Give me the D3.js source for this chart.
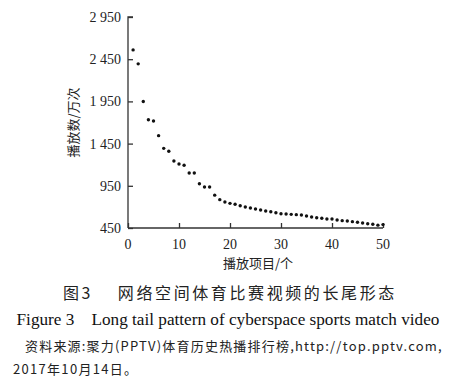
<!DOCTYPE html>
<html>
<head>
<meta charset="utf-8">
<script src="https://cdn.jsdelivr.net/npm/d3@7"></script>
<style>
  body { margin: 0; background: #fff; }
  svg { display: block; }
</style>
</head>
<body>
<div class="visualization"></div>
<script>
// play counts (万次) for the top 50 videos
const rank = d3.range(1, 51);
const plays = [
    2560, 2395, 1948, 1733, 1718, 1544, 1394, 1359, 1244, 1208,
    1193, 1102, 1102, 975, 936, 936, 839, 786, 758, 742,
    731, 714, 699, 687, 675, 663, 651, 643, 631, 619,
    616, 612, 608, 604, 592, 580, 572, 565, 557, 557,
    545, 537, 533, 525, 518, 509, 501, 494, 484, 490
];
const xTicks = [0, 10, 20, 30, 40, 50];
const yTicks = [450, 950, 1450, 1950, 2450, 2950];

const captionCn = "图3　 网络空间体育比赛视频的长尾形态";
const captionEn = "Figure 3    Long tail pattern of cyberspace sports match video";
const sourceLine1 = "资料来源:聚力(PPTV)体育历史热播排行榜,http://top.pptv.com,";
const sourceLine2 = "2017年10月14日。";

const width = 452, height = 384;
const serif = "'Liberation Serif', 'Times New Roman', serif";
const cjk = "'Noto Sans CJK SC', sans-serif";

const svg = d3.select(".visualization")
    .append("svg")
    .attr("width", width)
    .attr("height", height);

const x = d3.scaleLinear().domain([0, 50]).range([128, 383]);
const y = d3.scaleLinear().domain([450, 2950]).range([228, 17]);

const fmt = v => d3.format(",")(v).replace(",", " ");

// y axis, ticks pointing inward
const yAxis = svg.append("g")
    .attr("transform", `translate(${x(0)},0)`)
    .call(d3.axisRight(y).tickValues(yTicks).tickSize(5).tickFormat(""));
yAxis.select(".domain").attr("d", `M5,${y(2950)}H0V${y(450)}`);

// x axis, ticks pointing up
const xAxis = svg.append("g")
    .attr("transform", `translate(0,${y(450)})`)
    .call(d3.axisTop(x).tickValues(xTicks).tickSize(5).tickFormat(""));
xAxis.select(".domain").attr("d", `M${x(0)},0H${x(50)}`);

svg.selectAll(".domain, .tick line")
    .attr("stroke", "#333")
    .attr("stroke-width", 1.3);

svg.append("g").selectAll("text")
    .data(yTicks)
    .join("text")
    .attr("x", 121)
    .attr("y", d => y(d) + 5)
    .attr("text-anchor", "end")
    .attr("font-family", serif)
    .attr("font-size", 14)
    .attr("fill", "#222")
    .text(fmt);

svg.append("g").selectAll("text")
    .data(xTicks)
    .join("text")
    .attr("x", d => x(d))
    .attr("y", 249)
    .attr("text-anchor", "middle")
    .attr("font-family", serif)
    .attr("font-size", 14)
    .attr("fill", "#222")
    .text(d => d);

svg.append("text")
    .attr("transform", `translate(78,${(y(450) + y(2950)) / 2}) rotate(-90)`)
    .attr("text-anchor", "middle")
    .attr("font-family", cjk)
    .attr("font-size", 13)
    .attr("fill", "#222")
    .text("播放数/万次");

svg.append("text")
    .attr("x", 258)
    .attr("y", 268)
    .attr("text-anchor", "middle")
    .attr("font-family", cjk)
    .attr("font-size", 13)
    .attr("fill", "#222")
    .text("播放项目/个");

// points
svg.append("g").selectAll("circle")
    .data(rank)
    .join("circle")
    .attr("cx", d => x(d))
    .attr("cy", (d, i) => y(plays[i]))
    .attr("r", 1.7)
    .attr("fill", "#111");

// captions
svg.append("text")
    .attr("x", 63).attr("y", 299)
    .attr("font-family", cjk)
    .attr("font-size", 16)
    .attr("letter-spacing", 2.6)
    .attr("fill", "#222")
    .style("white-space", "pre")
    .text(captionCn);

svg.append("text")
    .attr("x", 228).attr("y", 325)
    .attr("text-anchor", "middle")
    .attr("font-family", serif)
    .attr("font-size", 17.2)
    .attr("fill", "#111")
    .style("white-space", "pre")
    .text(captionEn);

svg.append("text")
    .attr("x", 25).attr("y", 351)
    .attr("font-family", cjk)
    .attr("font-size", 13)
    .attr("letter-spacing", 1.2)
    .attr("fill", "#222")
    .text(sourceLine1);

svg.append("text")
    .attr("x", 13).attr("y", 374)
    .attr("font-family", cjk)
    .attr("font-size", 13)
    .attr("letter-spacing", 1.3)
    .attr("fill", "#222")
    .text(sourceLine2);
</script>
</body>
</html>
